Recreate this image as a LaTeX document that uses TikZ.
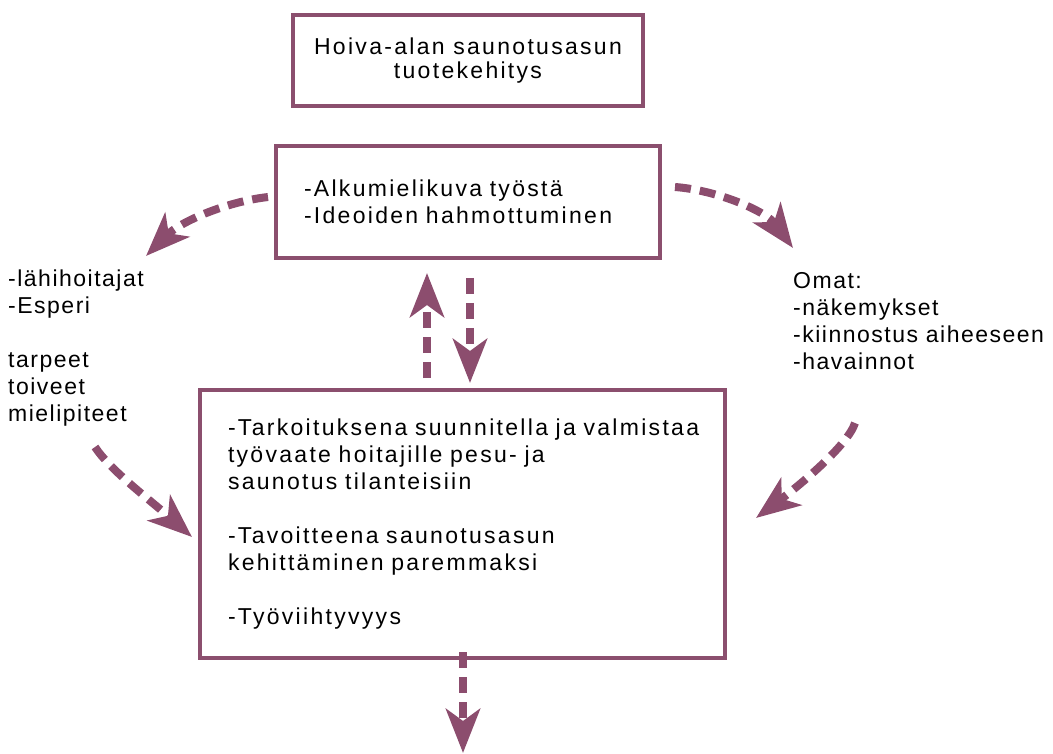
\documentclass[tikz,border=0pt]{standalone}
\usepackage{fontspec}
\setmainfont{Liberation Sans}[LetterSpace=6.5]
\newfontfamily\boxfont{Liberation Sans}[LetterSpace=10]
\usepackage{xcolor}
\usetikzlibrary{positioning}
\usetikzlibrary{arrows.meta}
\definecolor{boxcol}{HTML}{8B4F6E}
\definecolor{arrcol}{HTML}{8C4D6E}
\tikzset{>=stealth}

\begin{document}
\begin{tikzpicture}[x=1pt,y=-1pt,
      font=\fontsize{23}{27}\selectfont,
      frame/.style={draw=boxcol, line width=4pt, align=left,
      inner xsep=28pt, inner ysep=0pt,
      font=\boxfont\fontsize{23}{27}\selectfont},
      lbl/.style={align=left, inner sep=0pt, anchor=north west},
      flow/.style={draw=arrcol, line width=8pt, dash pattern=on 16pt off 9pt,
      -{Stealth[length=44pt, width=34pt, inset=12pt]}}]
    \useasboundingbox (0,0) rectangle (1053,754);
    \node [frame, align=center, inner xsep=4pt, minimum width=350pt, minimum height=91pt,
      font=\boxfont\fontsize{23}{24}\selectfont] (title) at (468,61)
      {Hoiva-alan saunotusasun\\tuotekehitys};
    \node [frame, text width=328pt, minimum height=112pt] (start) at (468,202)
      {\mbox{-Alkumielikuva työstä}\\\mbox{-Ideoiden hahmottuminen}};
    \node [frame, text width=469pt, minimum height=268pt] (goal) at (462.5,524)
      {\mbox{-Tarkoituksena suunnitella ja valmistaa}\\työvaate hoitajille pesu- ja\\saunotus tilanteisiin\\[27pt]-Tavoitteena saunotusasun\\kehittäminen paremmaksi\\[27pt]-Työviihtyvyys};
    \node [lbl] (users) at (8,269.5)
      {-lähihoitajat\\-Esperi\\[27pt]tarpeet\\toiveet\\mielipiteet};
    \node [lbl] (own) at (793,272.5)
      {Omat:\\-näkemykset\\-kiinnostus aiheeseen\\-havainnot};
    %% connectors
    \coordinate (s1) at (268,197);
    \coordinate (t1) at (146,256);
    \coordinate (s2) at (675,187);
    \coordinate (t2) at (793,248);
    \coordinate (s3) at (95,447);
    \coordinate (t3) at (192,537);
    \coordinate (s4) at (855,423);
    \coordinate (t4) at (756,518);
    \coordinate (s5) at (463,652);
    \coordinate (t5) at (463,753);
    \coordinate (up0) at (427,378);
    \coordinate (up1) at (427,273);
    \coordinate (dn0) at (470,278);
    \coordinate (dn1) at (470,383);
    \path [flow] (s1) .. controls (225,202) and (180,222) .. (t1);
    \path [flow] (s2) .. controls (715,190) and (765,210) .. (t2);
    \path [flow] (s3) .. controls (110,470) and (150,500) .. (t3);
    \path [flow] (s4) .. controls (848,445) and (800,485) .. (t4);
    \path [flow] (up0) -- (up1);
    \path [flow] (dn0) -- (dn1);
    \path [flow] (s5) -- (t5);
  \end{tikzpicture}
\end{document}
